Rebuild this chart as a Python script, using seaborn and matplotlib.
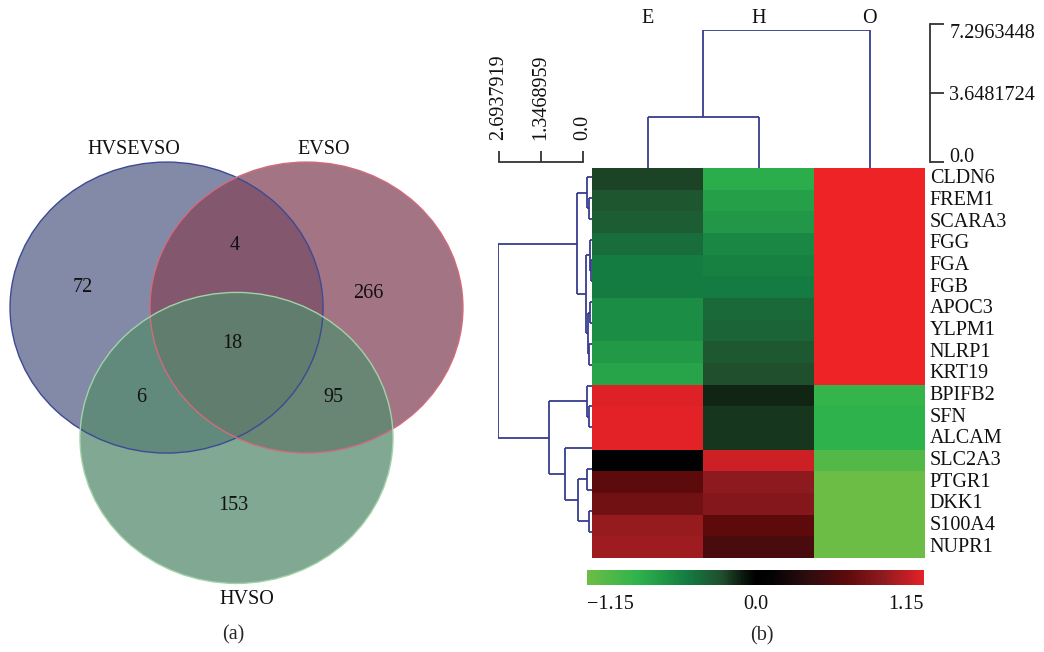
import numpy as np
import pandas as pd
import matplotlib
matplotlib.use("Agg")
import matplotlib.pyplot as plt
from matplotlib.colors import LinearSegmentedColormap
from matplotlib.patches import Ellipse
import seaborn as sns

# ---------------- data ----------------
set_names = ["HVSEVSO", "EVSO", "HVSO"]
region_keys = ["100", "010", "001", "110", "101", "011", "111"]
region_counts = [72, 266, 153, 4, 6, 95, 18]

genes = ["CLDN6", "FREM1", "SCARA3", "FGG", "FGA", "FGB", "APOC3", "YLPM1",
         "NLRP1", "KRT19", "BPIFB2", "SFN", "ALCAM", "SLC2A3", "PTGR1",
         "DKK1", "S100A4", "NUPR1"]
samples = ["E", "H", "O"]
vals_E = [-0.20, -0.27, -0.31, -0.39, -0.46, -0.46, -0.57, -0.57, -0.64, -0.71,
          1.13, 1.15, 1.15, 0.05, 0.62, 0.72, 0.89, 0.92]
vals_H = [-0.77, -0.69, -0.63, -0.54, -0.50, -0.46, -0.37, -0.35, -0.28, -0.24,
          -0.12, -0.17, -0.17, 1.07, 0.87, 0.82, 0.62, 0.52]
vals_O = [1.30, 1.30, 1.30, 1.30, 1.30, 1.30, 1.30, 1.30, 1.30, 1.30,
          -0.84, -0.80, -0.80, -1.00, -1.15, -1.15, -1.15, -1.15]

# row linkage (left, right, height); leaves 0..17 in display order, new nodes 18+
row_linkage = [(1, 2, 0.09), (0, 18, 0.14), (4, 5, 0.04), (3, 20, 0.06),
               (6, 7, 0.06), (8, 9, 0.08), (22, 23, 0.11), (21, 24, 0.17),
               (19, 25, 0.43), (11, 12, 0.09), (10, 27, 0.14), (14, 15, 0.14),
               (16, 17, 0.09), (29, 30, 0.40), (13, 31, 0.77), (28, 32, 1.23),
               (26, 33, 2.6937919)]
# column linkage: E+H, then +O
col_linkage = [(0, 1, 2.70), (3, 2, 7.2963448)]

row_scale_ticks = [2.6937919, 1.3468959, 0.0]
row_scale_labels = ["2.6937919", "1.3468959", "0.0"]
col_scale_ticks = [7.2963448, 3.6481724, 0.0]
col_scale_labels = ["7.2963448", "3.6481724", "0.0"]
cbar_ticks = [-1.15, 0.0, 1.15]
cbar_labels = ["\u22121.15", "0.0", "1.15"]

# ---------------- style ----------------
sns.set_style("white")
plt.rcParams["font.family"] = ["Liberation Serif", "DejaVu Serif"]
FS = 14.5
W, H = 1044, 652
LINE = "#363d8e"

fig = plt.figure(figsize=(W / 100, H / 100), dpi=100)


def rect(x0, y0, x1, y1):
    return [x0 / W, 1 - y1 / H, (x1 - x0) / W, (y1 - y0) / H]


# ---------------- Venn (a) ----------------
cx0, cy0, rx, ry = 236.5, 372.75, 156.5, 145.5  # layout (pixels)
vx0, vy0, vx1, vy1 = 0, 130, 470, 620
axv = fig.add_axes(rect(vx0, vy0, vx1, vy1))
axv.set_xlim((vx0 - cx0) / rx, (vx1 - cx0) / rx)
axv.set_ylim((cy0 - vy1) / ry, (cy0 - vy0) / ry)
axv.axis("off")

d = 0.447
centers = [(-d, 0.448), (d, 0.448), (0.0, -0.448)]
fills = ["#5a638a", "#84465a", "#568b6f"]
edges = ["#3d4a94", "#d06c7c", "#a2d2a8"]
for c, f in zip(centers, fills):
    axv.add_patch(Ellipse(c, 2, 2, facecolor=f, edgecolor="none", alpha=0.75))
for c, e in zip(centers, edges):
    axv.add_patch(Ellipse(c, 2, 2, facecolor="none", edgecolor=e, lw=1.0))


def px2d(px, py):
    return (px - cx0) / rx, (cy0 - py) / ry


region_pos_px = {"100": (83, 287), "010": (368, 294), "001": (233, 505),
                 "110": (235, 246), "101": (141, 398), "011": (333, 398),
                 "111": (232, 343)}
for k, n in zip(region_keys, region_counts):
    x, y = px2d(*region_pos_px[k])
    axv.text(x, y, str(n), ha="center", va="center", fontsize=FS, color="#111111")

label_pos_px = [(134, 150), (324, 150), (247, 600)]
for name, p in zip(set_names, label_pos_px):
    x, y = px2d(*p)
    axv.text(x, y, name, ha="center", va="center", fontsize=FS, color="#111111")

fig.text(233 / W, 1 - 635 / H, "(a)", ha="center", va="center", fontsize=FS)
fig.text(762 / W, 1 - 636 / H, "(b)", ha="center", va="center", fontsize=FS)

# ---------------- heatmap (b) ----------------
cmap = LinearSegmentedColormap.from_list("gbr", list(zip(
    [0, 0.15, 0.30, 0.40, 0.46, 0.50, 0.55, 0.65, 0.77, 0.88, 1.0],
    ["#6cbd45", "#2eb34c", "#147a41", "#214d2c", "#0c1a0e", "#000000",
     "#050203", "#2a0c0f", "#5c0a0c", "#8e1a1e", "#e32228"])))
cmap.set_over("#ee2326")
cmap.set_under("#6cbd45")

df = pd.DataFrame({"E": vals_E, "H": vals_H, "O": vals_O}, index=genes)

ax_hm = fig.add_axes(rect(592, 168, 925, 558))
ax_cb = fig.add_axes(rect(587, 570, 924, 585))
sns.heatmap(df, cmap=cmap, vmin=-1.15, vmax=1.15, ax=ax_hm, cbar_ax=ax_cb,
            cbar_kws={"orientation": "horizontal"}, xticklabels=False,
            yticklabels=genes)
ax_hm.yaxis.tick_right()
ax_hm.tick_params(axis="y", length=0, pad=3.5, labelsize=FS, labelcolor="#111111")
plt.setp(ax_hm.get_yticklabels(), rotation=0, va="center")
ax_hm.set_xlabel("")
ax_hm.set_ylabel("")

cb = ax_hm.collections[0].colorbar
cb.outline.set_visible(False)
cb.set_ticks(cbar_ticks)
cb.set_ticklabels(cbar_labels)
ax_cb.tick_params(axis="x", length=0, pad=7, labelsize=FS, labelcolor="#111111")
tl = ax_cb.get_xticklabels()
tl[0].set_ha("left")
tl[2].set_ha("right")


# ---------------- dendrograms ----------------
def dendro_segments(linkage, n_leaves):
    pos = {i: i + 0.5 for i in range(n_leaves)}
    hgt = {i: 0.0 for i in range(n_leaves)}
    segs = []
    for k, (a, b, h) in enumerate(linkage):
        node = n_leaves + k
        pa, pb = pos[a], pos[b]
        segs.append(((hgt[a], pa), (h, pa)))
        segs.append(((hgt[b], pb), (h, pb)))
        segs.append(((h, pa), (h, pb)))
        pos[node] = (pa + pb) / 2
        hgt[node] = h
    return segs


# row dendrogram (left)
ax_rd = fig.add_axes(rect(498, 166.6, 592, 542))
for (h0, p0), (h1, p1) in dendro_segments(row_linkage, len(genes)):
    ax_rd.plot([h0, h1], [p0, p1], color=LINE, lw=1.3, solid_capstyle="butt")
ax_rd.set_xlim(row_linkage[-1][2], 0)
ax_rd.set_ylim(len(genes), 0)
ax_rd.axis("off")

# column dendrogram (top)
ax_cd = fig.add_axes(rect(592, 30, 925, 168))
for (h0, p0), (h1, p1) in dendro_segments(col_linkage, len(samples)):
    ax_cd.plot([p0, p1], [h0, h1], color=LINE, lw=1.3, solid_capstyle="butt")
ax_cd.set_xlim(0, len(samples))
ax_cd.set_ylim(0, col_linkage[-1][2])
for s in ax_cd.spines.values():
    s.set_visible(False)
ax_cd.set_yticks([])
ax_cd.xaxis.tick_top()
ax_cd.set_xticks(np.arange(len(samples)) + 0.5)
ax_cd.set_xticklabels(samples)
ax_cd.tick_params(axis="x", length=0, pad=1.5, labelsize=FS, labelcolor="#111111")
ax_cd.patch.set_alpha(0)

# right scale for column dendrogram
ax_cs = fig.add_axes([930 / W, 1 - 162 / H, 0.00001, 138 / H])
for k, s in ax_cs.spines.items():
    s.set_visible(k == "right")
ax_cs.spines["right"].set_color("#333333")
ax_cs.spines["right"].set_linewidth(1.3)
ax_cs.set_ylim(0, col_scale_ticks[0])
ax_cs.set_xticks([])
ax_cs.yaxis.tick_right()
ax_cs.set_yticks(col_scale_ticks)
ax_cs.set_yticklabels(col_scale_labels)
ax_cs.tick_params(axis="y", direction="out", length=10, width=1.3, color="#333333",
                  pad=4, labelsize=FS, labelcolor="#111111")
cs_labels = ax_cs.get_yticklabels()
cs_labels[0].set_va("top")
cs_labels[2].set_va("baseline")
ax_cs.patch.set_alpha(0)

# left scale for row dendrogram
ax_rs = fig.add_axes([499 / W, 1 - 162 / H, 84 / W, 0.00001])
for k, s in ax_rs.spines.items():
    s.set_visible(k == "top")
ax_rs.spines["top"].set_color("#333333")
ax_rs.spines["top"].set_linewidth(1.3)
ax_rs.set_xlim(row_scale_ticks[0], 0)
ax_rs.set_yticks([])
ax_rs.xaxis.tick_top()
ax_rs.set_xticks(row_scale_ticks)
ax_rs.set_xticklabels(row_scale_labels, rotation=90)
ax_rs.tick_params(axis="x", direction="out", length=8, width=1.3, color="#333333",
                  pad=8, labelsize=FS, labelcolor="#111111")
ax_rs.patch.set_alpha(0)

fig.savefig("out.png", dpi=100)
